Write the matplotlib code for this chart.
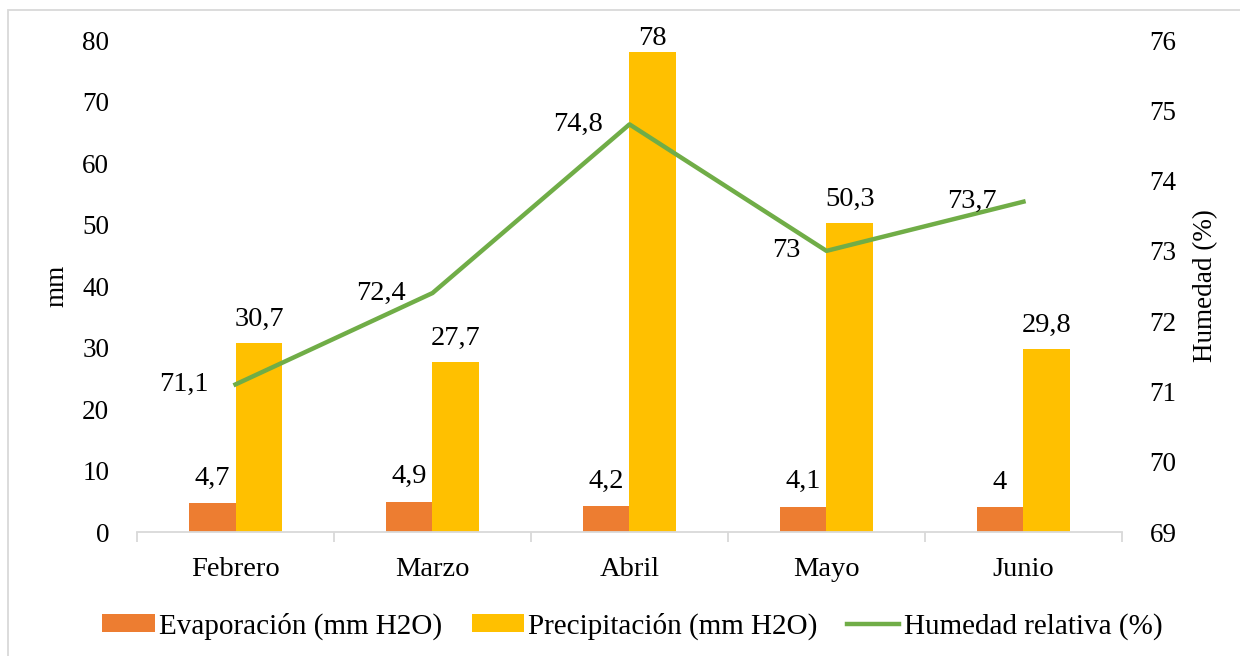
import matplotlib.pyplot as plt
import numpy as np
from matplotlib.patches import Rectangle

plt.rcParams['font.family'] = ['Liberation Serif', 'DejaVu Serif']

months = ['Febrero', 'Marzo', 'Abril', 'Mayo', 'Junio']
evaporacion = [4.7, 4.9, 4.2, 4.1, 4.0]
precipitacion = [30.7, 27.7, 78.0, 50.3, 29.8]
humedad = [71.1, 72.4, 74.8, 73.0, 73.7]

c_evap = '#ED7D31'
c_prec = '#FFC000'
c_hum = '#70AD47'
fs = 20.5
fs_tick = 19.5

def fmt(v):
    s = ('%.1f' % v).rstrip('0').rstrip('.')
    return s.replace('.', ',')

fig = plt.figure(figsize=(12.4, 6.56), dpi=100)
ax = fig.add_axes([0.1105, 0.189, 0.7943, 0.750])
ax2 = ax.twinx()

x = np.arange(len(months))
w = 0.238
b1 = ax.bar(x - w / 2, evaporacion, w, color=c_evap, label='Evaporación (mm H2O)')
b2 = ax.bar(x + w / 2, precipitacion, w, color=c_prec, label='Precipitación (mm H2O)')
for rect, v in zip(b1, evaporacion):
    ax.annotate(fmt(v), (rect.get_x() + rect.get_width() / 2, v), xytext=(0, 9),
                textcoords='offset points', ha='center', va='bottom', fontsize=fs)
for rect, v in zip(b2, precipitacion):
    # Excel keeps the label inside the chart area for the tallest bar
    off = 1 if v > 75 else 8
    ax.annotate(fmt(v), (rect.get_x() + rect.get_width() / 2, v), xytext=(0, off),
                textcoords='offset points', ha='center', va='bottom', fontsize=fs)

ln, = ax2.plot(x, humedad, color=c_hum, lw=3.2, label='Humedad relativa (%)')
for xi, v in zip(x, humedad):
    ax2.annotate(fmt(v), (xi, v), xytext=(-19, 0), textcoords='offset points',
                 ha='right', va='center', fontsize=fs)

ax.set_xlim(-0.5, 4.5)
ax.set_ylim(0, 80)
ax.set_yticks(range(0, 81, 10))
ax2.set_ylim(69, 76)
ax2.set_yticks(range(69, 77))

ax.set_xticks(x)
ax.set_xticklabels(months)
ax.set_xticks(np.arange(-0.5, 4.6, 1), minor=True)
ax.tick_params(axis='x', which='major', length=0, pad=18, labelsize=fs)
ax.tick_params(axis='x', which='minor', length=7, color='#D9D9D9', width=1.3)
ax.tick_params(axis='y', length=0, pad=20, labelsize=fs_tick)
ax2.tick_params(axis='y', length=0, pad=20, labelsize=fs_tick)

for a in (ax, ax2):
    for s in ('top', 'left', 'right'):
        a.spines[s].set_visible(False)
ax.spines['bottom'].set_color('#D9D9D9')
ax.spines['bottom'].set_linewidth(1.3)
ax2.spines['bottom'].set_visible(False)

ax.set_ylabel('mm', fontsize=fs_tick, labelpad=9)
ax2.set_ylabel('Humedad (%)', fontsize=fs_tick, labelpad=12)

fig.legend(handles=[b1, b2, ln], loc='lower center', bbox_to_anchor=(0.51, -0.015),
           ncol=3, frameon=False, fontsize=21, handlelength=1.8, handleheight=0.55,
           handletextpad=0.15, columnspacing=1.0)

fig.patches.append(Rectangle((8 / 1240, -0.05), 1.1, 1 - 10 / 656 + 0.05,
                             transform=fig.transFigure, fill=False,
                             edgecolor='#D9D9D9', lw=1.3))

fig.savefig('out.png', dpi=100)
